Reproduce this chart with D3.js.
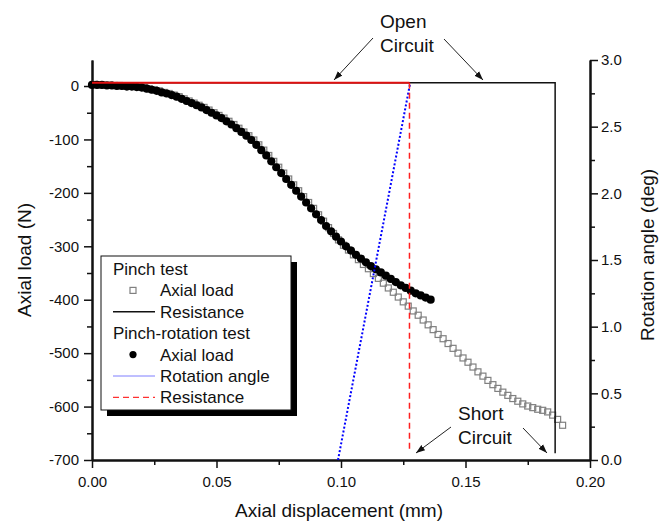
<!DOCTYPE html>
<html>
<head>
<meta charset="utf-8">
<script src="https://cdn.jsdelivr.net/npm/d3@7"></script>
<style>
  body { margin: 0; background: #fff; }
  svg { font-family: Arial, "Liberation Sans", sans-serif; }
</style>
</head>
<body>
<svg id="chart" width="659" height="522"></svg>
<script>
// pinch test, axial load (open squares)
const pinchX = [0.001,0.003,0.005,0.007,0.009,0.011,0.013,0.015,0.017,0.019,0.021,0.023,0.025,0.027,0.029,
  0.031,0.033,0.035,0.037,0.039,0.041,0.043,0.045,0.047,0.049,0.051,0.053,0.055,0.057,0.059,
  0.061,0.063,0.065,0.067,0.069,0.071,0.073,0.075,0.077,0.079,0.081,0.083,0.085,0.087,0.089,
  0.091,0.093,0.095,0.097,0.099,0.101,0.103,0.105,0.107,0.109,0.111,0.113,0.115,0.117,0.119,
  0.121,0.123,0.125,0.127,0.129,0.131,0.133,0.135,0.137,0.139,0.141,0.143,0.145,0.147,0.149,
  0.151,0.153,0.155,0.157,0.159,0.161,0.163,0.165,0.167,0.169,0.171,0.173,0.175,0.177,0.179,
  0.181,0.183,0.185,0.187,0.189];
const pinchLoad = [3,2,2,2,1,1,0,0,-1,-2,-3,-5,-7,-9,-12,
  -14,-17,-20,-24,-28,-32,-36,-40,-45,-50,-55,-60,-66,-72,-79,
  -86,-93,-101,-110,-120,-130,-141,-152,-163,-174,-185,-196,-207,-218,-229,
  -241,-253,-265,-276,-288,-298,-307,-316,-325,-334,-342,-351,-360,-369,-378,
  -386,-395,-404,-412,-421,-429,-438,-447,-456,-465,-473,-482,-491,-500,-509,
  -517,-526,-535,-543,-551,-559,-566,-573,-579,-585,-590,-595,-599,-602,-605,
  -607,-610,-616,-624,-635];

// pinch-rotation test, axial load (filled circles)
const rotTestX = [0.000,0.002,0.004,0.006,0.008,0.010,0.012,0.014,0.016,0.018,0.020,0.022,0.024,0.026,0.028,
  0.030,0.032,0.034,0.036,0.038,0.040,0.042,0.044,0.046,0.048,0.050,0.052,0.054,0.056,0.058,
  0.060,0.062,0.064,0.066,0.068,0.070,0.072,0.074,0.076,0.078,0.080,0.082,0.084,0.086,0.088,
  0.090,0.092,0.094,0.096,0.098,0.100,0.102,0.104,0.106,0.108,0.110,0.112,0.114,0.116,0.118,
  0.120,0.122,0.124,0.126,0.128,0.130,0.132,0.134,0.136];
const rotTestLoad = [2,2,2,1,1,0,0,-1,-1,-2,-3,-5,-7,-9,-12,
  -14,-17,-20,-24,-28,-32,-36,-40,-45,-50,-55,-60,-66,-72,-79,
  -86,-93,-101,-110,-120,-130,-141,-152,-163,-174,-185,-196,-207,-218,-229,
  -240,-251,-262,-272,-282,-291,-300,-308,-316,-323,-330,-337,-343,-349,-355,
  -361,-367,-373,-378,-383,-388,-392,-396,-400];

// rotation angle (deg, right axis)
const angleX = [0.0988, 0.1277];
const angleDeg = [0, 2.82];

// resistance traces, drawn against the right-hand scale
const resPinchX = [0, 0.186, 0.186];
const resPinchY = [2.83, 2.83, 0.05];
const resRotX = [0, 0.1275, 0.1275];
const resRotY = [2.83, 2.83, 0.08];

// ticks
const xMajor = [0, 0.05, 0.10, 0.15, 0.20];
const xMinor = [0.025, 0.075, 0.125, 0.175];
const yMajor = [0, -100, -200, -300, -400, -500, -600, -700];
const yMinor = [-50, -150, -250, -350, -450, -550, -650];
const rMajor = [0, 0.5, 1.0, 1.5, 2.0, 2.5, 3.0];
const rMinor = [0.25, 0.75, 1.25, 1.75, 2.25, 2.75];

const legendRows = [
  {label: "Pinch test", head: true},
  {label: "Axial load", sym: "square"},
  {label: "Resistance", sym: "black"},
  {label: "Pinch-rotation test", head: true},
  {label: "Axial load", sym: "dot"},
  {label: "Rotation angle", sym: "blue"},
  {label: "Resistance", sym: "red"}
];

const svg = d3.select("#chart");
const pL = 92, pR = 590, pT = 60, pB = 460;

const x = d3.scaleLinear().domain([0, 0.2]).range([pL, pR]);
const yL = d3.scaleLinear().domain([-700, 48.7]).range([pB, pT]);
const yR = d3.scaleLinear().domain([0, 3]).range([pB, pT]);

function styleAxis(g) {
  g.select(".domain").attr("stroke", "#111").attr("stroke-width", 2);
  g.selectAll(".tick line").attr("stroke", "#111").attr("stroke-width", 1.5);
  g.selectAll(".tick text").attr("fill", "#111").style("font-size", "15px").style("font-family", "Arial, 'Liberation Sans', sans-serif");
}

// minor ticks first
svg.append("g").attr("transform", `translate(0,${pB})`)
  .call(d3.axisBottom(x).tickValues(xMinor).tickSize(5).tickSizeOuter(0).tickFormat(""))
  .call(styleAxis);
svg.append("g").attr("transform", `translate(${pL},0)`)
  .call(d3.axisLeft(yL).tickValues(yMinor).tickSize(5).tickSizeOuter(0).tickFormat(""))
  .call(styleAxis);
svg.append("g").attr("transform", `translate(${pR},0)`)
  .call(d3.axisRight(yR).tickValues(rMinor).tickSize(5).tickSizeOuter(0).tickFormat(""))
  .call(styleAxis);

svg.append("g").attr("transform", `translate(0,${pB})`)
  .call(d3.axisBottom(x).tickValues(xMajor).tickSize(8).tickSizeOuter(0).tickPadding(8).tickFormat(d3.format(".2f")))
  .call(styleAxis);
svg.append("g").attr("transform", `translate(${pL},0)`)
  .call(d3.axisLeft(yL).tickValues(yMajor).tickSize(8).tickSizeOuter(0).tickPadding(5).tickFormat(d => String(d)))
  .call(styleAxis);
svg.append("g").attr("transform", `translate(${pR},0)`)
  .call(d3.axisRight(yR).tickValues(rMajor).tickSize(8).tickSizeOuter(0).tickPadding(3).tickFormat(d3.format(".1f")))
  .call(styleAxis);

// axis titles
svg.append("text").attr("x", (pL + pR) / 2 - 2).attr("y", 517)
  .attr("text-anchor", "middle").style("font-size", "19px").attr("fill", "#111")
  .text("Axial displacement (mm)");
svg.append("text").attr("transform", `translate(31,${(pT + pB) / 2}) rotate(-90)`)
  .attr("text-anchor", "middle").style("font-size", "19px").attr("fill", "#111")
  .text("Axial load (N)");
svg.append("text").attr("transform", `translate(654,${(pT + pB) / 2 - 5}) rotate(-90)`)
  .attr("text-anchor", "middle").style("font-size", "19px").attr("fill", "#111")
  .text("Rotation angle (deg)");

// data
const squares = pinchX.map((d, i) => [d, pinchLoad[i]]);
svg.append("g").selectAll("rect").data(squares).join("rect")
  .attr("x", d => x(d[0]) - 3).attr("y", d => yL(d[1]) - 3)
  .attr("width", 6).attr("height", 6)
  .attr("fill", "none").attr("stroke", "#808080").attr("stroke-width", 1.2);

const lineR = d3.line().x(d => x(d[0])).y(d => yR(d[1]));
svg.append("path").datum(resPinchX.map((d, i) => [d, resPinchY[i]]))
  .attr("d", lineR).attr("fill", "none").attr("stroke", "#111").attr("stroke-width", 1.5);

const dots = rotTestX.map((d, i) => [d, rotTestLoad[i]]);
svg.append("g").selectAll("circle").data(dots).join("circle")
  .attr("cx", d => x(d[0])).attr("cy", d => yL(d[1])).attr("r", 4.1).attr("fill", "#000");

svg.append("path").datum(angleX.map((d, i) => [d, angleDeg[i]]))
  .attr("d", lineR).attr("fill", "none").attr("stroke", "#0000ff")
  .attr("stroke-width", 2).attr("stroke-dasharray", "2,2");

const resRot = resRotX.map((d, i) => [d, resRotY[i]]);
svg.append("path").datum(resRot.slice(0, 2))
  .attr("d", lineR).attr("fill", "none").attr("stroke", "#e01010").attr("stroke-width", 2);
svg.append("path").datum(resRot.slice(1))
  .attr("d", lineR).attr("fill", "none").attr("stroke", "#ff2020")
  .attr("stroke-width", 1.5).attr("stroke-dasharray", "6,4");

// legend with drop shadow
const lg = svg.append("g");
lg.append("rect").attr("x", 107).attr("y", 262).attr("width", 190).attr("height", 154).attr("fill", "#000");
lg.append("rect").attr("x", 101).attr("y", 256).attr("width", 190).attr("height", 154)
  .attr("fill", "#fff").attr("stroke", "#111").attr("stroke-width", 1);
legendRows.forEach((r, i) => {
  const yy = 275 + i * 21.4;
  lg.append("text").attr("x", r.head ? 113 : 160).attr("y", yy)
    .style("font-size", "17px").attr("fill", "#111").text(r.label);
  const cy = yy - 6;
  if (r.sym === "square") {
    lg.append("rect").attr("x", 130).attr("y", cy - 3).attr("width", 6).attr("height", 6)
      .attr("fill", "none").attr("stroke", "#808080").attr("stroke-width", 1.2);
  } else if (r.sym === "dot") {
    lg.append("circle").attr("cx", 133).attr("cy", cy).attr("r", 3.6).attr("fill", "#000");
  } else if (r.sym) {
    const st = {black: ["#111", 1.5, null], blue: ["#7f7fff", 1, null], red: ["#ff3030", 1.2, "6,4"]}[r.sym];
    lg.append("line").attr("x1", 113).attr("x2", 155).attr("y1", cy).attr("y2", cy)
      .attr("stroke", st[0]).attr("stroke-width", st[1]).attr("stroke-dasharray", st[2]);
  }
});

// annotations
svg.append("defs").append("marker").attr("id", "arr")
  .attr("viewBox", "0 0 10 10").attr("refX", 10).attr("refY", 5)
  .attr("markerWidth", 9).attr("markerHeight", 9).attr("orient", "auto")
  .attr("markerUnits", "userSpaceOnUse")
  .append("path").attr("d", "M0,1.5L10,5L0,8.5z").attr("fill", "#111");

function note(lines, tx, ty, arrows) {
  lines.forEach((t, i) => {
    svg.append("text").attr("x", tx).attr("y", ty + i * 23.5)
      .style("font-size", "19px").attr("fill", "#111").text(t);
  });
  arrows.forEach(a => {
    svg.append("line").attr("x1", a[0]).attr("y1", a[1]).attr("x2", a[2]).attr("y2", a[3])
      .attr("stroke", "#222").attr("stroke-width", 1).attr("marker-end", "url(#arr)");
  });
}
note(["Open", "Circuit"], 380, 28, [[373, 38, 334, 80], [444, 39, 483, 80]]);
note(["Short", "Circuit"], 458, 420, [[451, 427, 416, 453], [523, 428, 547, 453]]);
</script>
</body>
</html>
